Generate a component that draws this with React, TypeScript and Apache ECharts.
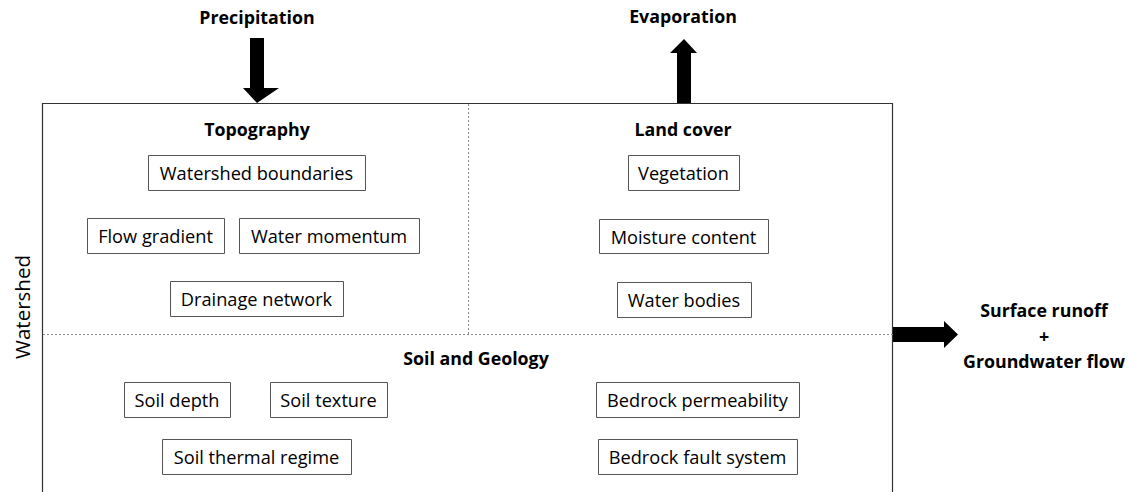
import React, { useEffect, useRef } from "react";
import * as echarts from "echarts";

// Diagram content
const topographyItems = ["Watershed boundaries", "Flow gradient", "Water momentum", "Drainage network"];
const landCoverItems = ["Vegetation", "Moisture content", "Water bodies"];
const soilItems = ["Soil depth", "Soil texture", "Soil thermal regime", "Bedrock permeability", "Bedrock fault system"];
const sectionTitles = ["Topography", "Land cover", "Soil and Geology"];
const flowLabels = ["Precipitation", "Evaporation", "Surface runoff", "+", "Groundwater flow"];
const sideLabel = "Watershed";

// Layout (x1, y1, x2, y2) of each item box
const topographyBoxes = [
  [148, 155, 365, 190],
  [87, 218, 224, 253],
  [239, 218, 419, 253],
  [170, 281, 343, 316],
];
const landCoverBoxes = [
  [628, 155, 739, 190],
  [599, 219, 768, 253],
  [617, 282, 751, 317],
];
const soilBoxes = [
  [124, 382, 230, 417],
  [270, 382, 387, 417],
  [162, 439, 351, 474],
  [596, 382, 799, 417],
  [598, 439, 797, 474],
];
const titlePos = [
  [257, 129],
  [683, 129],
  [476, 358],
];
const flowPos = [
  [257, 17],
  [683, 16],
  [1044, 310],
  [1044, 336],
  [1044, 361],
];

const FONT = "'Open Sans', Lato, sans-serif";

function boxEls(labels: string[], boxes: number[][]) {
  const els: any[] = [];
  labels.forEach((t, i) => {
    const [x1, y1, x2, y2] = boxes[i];
    els.push({
      type: "rect",
      shape: { x: x1 + 0.5, y: y1 + 0.5, width: x2 - x1, height: y2 - y1 },
      style: { fill: "#ffffff", stroke: "#555555", lineWidth: 1 },
      z: 2,
    });
    els.push({
      type: "text",
      x: (x1 + x2) / 2,
      y: (y1 + y2) / 2 + 0.5,
      style: {
        text: t,
        fontSize: 18.2,
        fontFamily: FONT,
        fill: "#000000",
        align: "center",
        verticalAlign: "middle",
      },
      z: 3,
    });
  });
  return els;
}

export default function App() {
  const ref = useRef<HTMLDivElement>(null);
  useEffect(() => {
    if (!ref.current) return;
    const chart = echarts.init(ref.current, null, { renderer: "svg" });
    const elements: any[] = [];

    // outer watershed box
    elements.push({
      type: "rect",
      shape: { x: 42.5, y: 103.5, width: 850, height: 420 },
      style: { fill: "#ffffff", stroke: "#333333", lineWidth: 1.2 },
      z: 1,
    });
    // dotted dividers
    elements.push({
      type: "line",
      shape: { x1: 43, y1: 334.5, x2: 893, y2: 334.5 },
      style: { stroke: "#888888", lineWidth: 1, lineDash: [2, 2] },
      z: 2,
    });
    elements.push({
      type: "line",
      shape: { x1: 468.5, y1: 104, x2: 468.5, y2: 334 },
      style: { stroke: "#888888", lineWidth: 1, lineDash: [2, 2] },
      z: 2,
    });

    // Precipitation arrow (down)
    elements.push({
      type: "polygon",
      shape: {
        points: [
          [250, 38], [264, 38], [264, 88], [279, 88], [257, 103], [243, 88], [250, 88],
        ],
      },
      style: { fill: "#000000" },
      z: 4,
    });
    // Evaporation arrow (up)
    elements.push({
      type: "polygon",
      shape: {
        points: [
          [677, 103], [691, 103], [691, 53], [697, 53], [684, 39], [670, 53], [677, 53],
        ],
      },
      style: { fill: "#000000" },
      z: 4,
    });
    // Outflow arrow (right)
    elements.push({
      type: "polygon",
      shape: {
        points: [
          [893, 327], [944, 327], [944, 321], [958, 334.5], [944, 348], [944, 342], [893, 342],
        ],
      },
      style: { fill: "#000000" },
      z: 4,
    });

    const boldStyle = (t: string) => ({
      text: t,
      fontSize: 17.8,
      fontWeight: "bold",
      fontFamily: FONT,
      fill: "#000000",
      align: "center",
      verticalAlign: "middle",
    });

    sectionTitles.forEach((t, i) => {
      elements.push({ type: "text", x: titlePos[i][0], y: titlePos[i][1], style: boldStyle(t), z: 3 });
    });
    flowLabels.forEach((t, i) => {
      elements.push({ type: "text", x: flowPos[i][0], y: flowPos[i][1], style: boldStyle(t), z: 3 });
    });
    // side label
    elements.push({
      type: "text",
      x: 22,
      y: 307,
      rotation: Math.PI / 2,
      style: {
        text: sideLabel,
        fontSize: 20.5,
        fontFamily: FONT,
        fill: "#000000",
        align: "center",
        verticalAlign: "middle",
      },
      z: 3,
    });

    elements.push(...boxEls(topographyItems, topographyBoxes));
    elements.push(...boxEls(landCoverItems, landCoverBoxes));
    elements.push(...boxEls(soilItems, soilBoxes));

    chart.setOption({
      animation: false,
      backgroundColor: "#ffffff",
      graphic: { elements },
    });
    return () => chart.dispose();
  }, []);
  return (
    <div
      ref={ref}
      style={{ position: "fixed", left: 0, top: 0, width: 1128, height: 492, background: "#fff" }}
    />
  );
}
